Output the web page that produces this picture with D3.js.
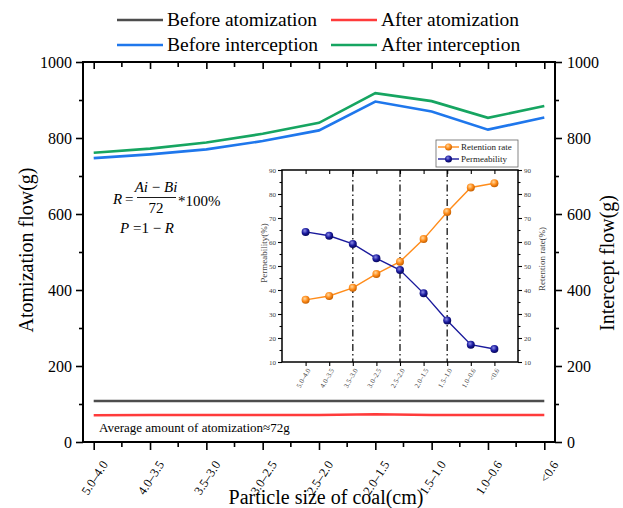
<!DOCTYPE html>
<html>
<head>
<meta charset="utf-8">
<script src="https://cdn.jsdelivr.net/npm/d3@7/dist/d3.min.js"></script>
<style>
html,body{margin:0;padding:0;background:#fff;}
svg{display:block;font-family:'Liberation Serif','Times New Roman',serif;}
</style>
</head>
<body>
<svg id="chart" width="623" height="508"></svg>
<script>
// ---------- data ----------
const categories = ["5.0–4.0","4.0–3.5","3.5–3.0","3.0–2.5","2.5–2.0","2.0–1.5","1.5–1.0","1.0–0.6","<0.6"];
const beforeAtomization = [108,108,108,108,108,108,108,108,108];
const afterAtomization  = [70.5,71,71,71,71,73,71,71,71];
const beforeInterception = [747,757,770,792,820,896,870,822,854];
const afterInterception  = [761,772,788,811,840,918,897,853,884];
const mainTicks = [0,200,400,600,800,1000];

const retentionRate = [35.9,37.5,40.9,46.7,51.8,61.2,72.5,82.7,84.5];
const permeability  = [64.2,62.6,59.2,53.2,48.3,38.6,27.3,17.2,15.4];
const insetTicks = [10,20,30,40,50,60,70,80,90];
const dividerCats = ["3.5–3.0","2.5–2.0","1.5–1.0"];

const seriesMain = [
  {name:"Before atomization", values: beforeAtomization, color:"#4d4d4d"},
  {name:"After atomization", values: afterAtomization, color:"#ff3b3b"},
  {name:"Before interception", values: beforeInterception, color:"#1f77ec"},
  {name:"After interception", values: afterInterception, color:"#16a561"}
];

const svg = d3.select("#chart");
const FONT = "'Liberation Serif','Times New Roman',serif";

// ---------- main scales ----------
const L = 83, R = 555, T = 62, B = 442;
const x = d3.scalePoint().domain(categories).range([L, R]).padding(0.19);
const y = d3.scaleLinear().domain([0, 1000]).range([B, T]);
const minorY = d3.range(100, 1000, 200);

// main lines
const line = d3.line().x((d,i)=>x(categories[i])).y(d=>y(d));
seriesMain.forEach(s=>{
  svg.append("path").attr("d", line(s.values)).attr("fill","none")
    .attr("stroke", s.color).attr("stroke-width", 2.6);
});

// axes - left
const gL = svg.append("g").attr("transform",`translate(${L},0)`)
  .call(d3.axisLeft(y).tickValues(mainTicks).tickSize(7).tickPadding(4).tickFormat(d3.format("d")));
svg.append("g").attr("transform",`translate(${L},0)`)
  .call(d3.axisLeft(y).tickValues(minorY).tickSize(4).tickFormat(""));
// right
const gR = svg.append("g").attr("transform",`translate(${R},0)`)
  .call(d3.axisRight(y).tickValues(mainTicks).tickSize(7).tickPadding(5).tickFormat(d3.format("d")));
svg.append("g").attr("transform",`translate(${R},0)`)
  .call(d3.axisRight(y).tickValues(minorY).tickSize(4).tickFormat(""));
// bottom
svg.append("g").attr("transform",`translate(0,${B})`)
  .call(d3.axisBottom(x).tickSize(8).tickFormat(""));
const midX = categories.slice(0,-1).map((c,i)=> (x(c)+x(categories[i+1]))/2);
svg.append("g").selectAll("line").data(midX).join("line")
  .attr("x1",d=>d).attr("x2",d=>d).attr("y1",B).attr("y2",B+5)
  .attr("stroke","#000").attr("stroke-width",1.6);
// top (inward ticks)
svg.append("g").attr("transform",`translate(0,${T})`)
  .call(d3.axisTop(x).tickSize(-7).tickFormat(""));
svg.append("g").selectAll("line").data(midX).join("line")
  .attr("x1",d=>d).attr("x2",d=>d).attr("y1",T).attr("y2",T+5)
  .attr("stroke","#000").attr("stroke-width",1.6);

svg.selectAll(".tick line").attr("stroke","#000").attr("stroke-width",1.6);
[gL,gR].forEach(g=>{
  g.attr("font-family",FONT).attr("font-size",16);
  g.selectAll("text").attr("fill","#000");
});
svg.selectAll(".domain").remove();
svg.append("rect").attr("x",L).attr("y",T).attr("width",R-L).attr("height",B-T)
  .attr("fill","none").attr("stroke","#000").attr("stroke-width",2);

// bottom category labels rotated
svg.append("g").selectAll("text").data(categories).join("text")
  .attr("transform",d=>`translate(${x(d)+11},${B+20}) rotate(-57)`)
  .attr("text-anchor","end").attr("dy","0.35em")
  .attr("font-family",FONT).attr("font-size",12.5).attr("fill","#000")
  .text(d=>d);

// axis titles
svg.append("text").attr("transform",`translate(33,250) rotate(-90)`)
  .attr("text-anchor","middle").attr("font-family",FONT).attr("font-size",20)
  .text("Atomization flow(g)");
svg.append("text").attr("transform",`translate(614,263) rotate(-90)`)
  .attr("text-anchor","middle").attr("font-family",FONT).attr("font-size",20)
  .text("Intercept flow(g)");
svg.append("text").attr("x",326).attr("y",504)
  .attr("text-anchor","middle").attr("font-family",FONT).attr("font-size",20)
  .text("Particle size of coal(cm)");

// main legend
const legPos = [[117,20],[331,20],[117,45],[331,45]];
seriesMain.forEach((s,i)=>{
  const [lx,ly] = legPos[i];
  svg.append("line").attr("x1",lx).attr("x2",lx+46).attr("y1",ly).attr("y2",ly)
    .attr("stroke",s.color).attr("stroke-width",2.6);
  svg.append("text").attr("x",lx+50).attr("y",ly+6)
    .attr("font-family",FONT).attr("font-size",19.5).text(s.name);
});

// annotation
svg.append("text").attr("x",99).attr("y",432).attr("font-family",FONT).attr("font-size",13)
  .text("Average amount of atomization≈72g");

// formula
const f = svg.append("g").attr("font-family",FONT).attr("font-size",15);
f.append("text").attr("x",113).attr("y",204).attr("font-style","italic").text("R");
f.append("text").attr("x",125).attr("y",204).text("=");
const num = f.append("text").attr("x",156).attr("y",192).attr("text-anchor","middle");
num.append("tspan").attr("font-style","italic").text("Ai");
num.append("tspan").text(" − ");
num.append("tspan").attr("font-style","italic").text("Bi");
f.append("line").attr("x1",137).attr("x2",176).attr("y1",197.5).attr("y2",197.5)
  .attr("stroke","#000").attr("stroke-width",0.9);
f.append("text").attr("x",156).attr("y",213).attr("text-anchor","middle").text("72");
f.append("text").attr("x",178).attr("y",206).text("*100%");
const p = f.append("text").attr("x",120).attr("y",233);
p.append("tspan").attr("font-style","italic").text("P");
p.append("tspan").text(" =1 − ");
p.append("tspan").attr("font-style","italic").text("R");

// ---------- inset ----------
const iL = 282, iR = 518, iT = 170, iB = 362;
const ix = d3.scalePoint().domain(categories).range([iL, iR]).padding(1.0);
const iy = d3.scaleLinear().domain([10, 90]).range([iB, iT]);
const inset = svg.append("g");

inset.selectAll("line.div").data(dividerCats).join("line")
  .attr("x1",d=>ix(d)).attr("x2",d=>ix(d)).attr("y1",iT).attr("y2",iB)
  .attr("stroke","#333").attr("stroke-width",1.5).attr("stroke-dasharray","7,3,1.5,3");

const minorI = d3.range(15, 90, 10);
const a1 = inset.append("g").attr("transform",`translate(${iL},0)`)
  .call(d3.axisLeft(iy).tickValues(insetTicks).tickSize(4).tickPadding(2));
inset.append("g").attr("transform",`translate(${iL},0)`)
  .call(d3.axisLeft(iy).tickValues(minorI).tickSize(2.5).tickFormat(""));
const a2 = inset.append("g").attr("transform",`translate(${iR},0)`)
  .call(d3.axisRight(iy).tickValues(insetTicks).tickSize(4).tickPadding(2));
inset.append("g").attr("transform",`translate(${iR},0)`)
  .call(d3.axisRight(iy).tickValues(minorI).tickSize(2.5).tickFormat(""));
inset.append("g").attr("transform",`translate(0,${iB})`)
  .call(d3.axisBottom(ix).tickSize(4).tickFormat(""));
inset.append("g").attr("transform",`translate(0,${iT})`)
  .call(d3.axisTop(ix).tickSize(-4).tickFormat(""));
inset.selectAll(".domain").remove();
inset.selectAll(".tick line").attr("stroke","#000").attr("stroke-width",1.1);
[a1,a2].forEach(g=>{
  g.attr("font-family",FONT).attr("font-size",7);
  g.selectAll("text").attr("fill","#444");
});
inset.append("rect").attr("x",iL).attr("y",iT).attr("width",iR-iL).attr("height",iB-iT)
  .attr("fill","none").attr("stroke","#000").attr("stroke-width",1.5);

inset.append("g").selectAll("text").data(categories).join("text")
  .attr("transform",d=>`translate(${ix(d)+3},${iB+7}) rotate(-60)`)
  .attr("text-anchor","end").attr("dy","0.35em")
  .attr("font-family",FONT).attr("font-size",7).attr("fill","#444")
  .text(d=>d);

inset.append("text").attr("transform",`translate(267,253) rotate(-90)`)
  .attr("text-anchor","middle").attr("font-family",FONT).attr("font-size",9).attr("fill","#444")
  .text("Permeability(%)");
inset.append("text").attr("transform",`translate(545,259) rotate(-90)`)
  .attr("text-anchor","middle").attr("font-family",FONT).attr("font-size",9).attr("fill","#444")
  .text("Retention rate(%)");

// gradients
const defs = svg.append("defs");
function ball(id, c0, c1, c2){
  const g = defs.append("radialGradient").attr("id",id).attr("cx","40%").attr("cy","35%").attr("r","65%");
  g.append("stop").attr("offset","0%").attr("stop-color",c0);
  g.append("stop").attr("offset","55%").attr("stop-color",c1);
  g.append("stop").attr("offset","100%").attr("stop-color",c2);
}
ball("gOr","#ffd9a0","#ff8c1a","#c45f00");
ball("gBl","#8c8ce8","#1c1ca0","#06065a");

const insetSeries = [
  {name:"Retention rate", values: retentionRate, color:"#ff8c1a", grad:"url(#gOr)"},
  {name:"Permeability", values: permeability, color:"#1a1a9c", grad:"url(#gBl)"}
];
const iline = d3.line().x((d,i)=>ix(categories[i])).y(d=>iy(d));
insetSeries.forEach(s=>{
  inset.append("path").attr("d", iline(s.values)).attr("fill","none")
    .attr("stroke", s.color).attr("stroke-width",1.4);
  inset.append("g").selectAll("circle").data(s.values).join("circle")
    .attr("cx",(d,i)=>ix(categories[i])).attr("cy",d=>iy(d)).attr("r",4)
    .attr("fill",s.grad);
});

// inset legend
const lg = inset.append("g");
lg.append("rect").attr("x",436).attr("y",140).attr("width",82).attr("height",27)
  .attr("fill","#fff").attr("stroke","#666").attr("stroke-width",0.8);
insetSeries.forEach((s,i)=>{
  const ly = 147 + i*12;
  lg.append("line").attr("x1",438).attr("x2",459).attr("y1",ly).attr("y2",ly)
    .attr("stroke",s.color).attr("stroke-width",1.4);
  lg.append("circle").attr("cx",448.5).attr("cy",ly).attr("r",3.5).attr("fill",s.grad);
  lg.append("text").attr("x",461).attr("y",ly+3).attr("font-family",FONT).attr("font-size",9)
    .attr("fill","#222").text(s.name);
});
</script>
</body>
</html>
